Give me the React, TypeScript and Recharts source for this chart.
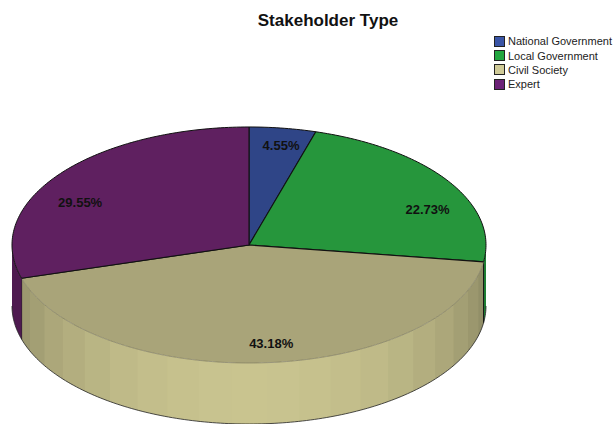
import { PieChart, Pie, Legend } from 'recharts';

// ── data ─────────────────────────────────────────────────────────────────────

const CATEGORIES = ['National Government', 'Local Government', 'Civil Society', 'Expert'];
const PERCENTS = [4.55, 22.73, 43.18, 29.55];
const LEGEND_COLORS = ['#3A55A6', '#22A63F', '#D0CB98', '#6C2277'];
const TOP_COLORS = ['#2F4587', '#26963C', '#A9A479', '#5F2060'];
const WALL_COLORS = ['#26386E', '#1E8034', '#C9C48F', '#4E1A50'];

const rows = CATEGORIES.map((name, i) => ({
  name,
  value: PERCENTS[i],
  fill: LEGEND_COLORS[i],
  top: TOP_COLORS[i],
  wall: WALL_COLORS[i],
}));

// ── 3d pie geometry ──────────────────────────────────────────────────────────

const TILT = 0.498; // ellipse ry / rx
const DEPTH = 61;
const FACET = 7.9; // deg per shaded band on the wall

const RAD = Math.PI / 180;

// a = recharts angle (deg, counter-clockwise from 3 o'clock)
function pt(cx: number, cy: number, r: number, a: number) {
  return [cx + r * Math.cos(a * RAD), cy - r * TILT * Math.sin(a * RAD)];
}

function arcPts(cx: number, cy: number, r: number, from: number, to: number, dy = 0) {
  const n = Math.max(2, Math.ceil(Math.abs(to - from)));
  const out: string[] = [];
  for (let i = 0; i <= n; i++) {
    const [x, y] = pt(cx, cy, r, from + ((to - from) * i) / n);
    out.push(`${x.toFixed(2)} ${(y + dy).toFixed(2)}`);
  }
  return out;
}

function shadeHex(hex: string, k: number) {
  const n = parseInt(hex.slice(1), 16);
  const c = [(n >> 16) & 255, (n >> 8) & 255, n & 255].map(v => Math.round(v * k));
  return `rgb(${c[0]},${c[1]},${c[2]})`;
}

function Slice3D(props: any) {
  const { cx, cy, outerRadius: r, startAngle, endAngle, payload } = props;
  const top = payload.top ?? props.top;
  const wall = payload.wall ?? props.wall;
  const name = payload.name ?? props.name;
  const isCivil = name === 'Civil Society';

  // front half of the rim only: angles between -180 and 0
  const frontHi = Math.min(startAngle, 0);
  const frontLo = Math.max(endAngle, -180);

  const facets: number[][] = [];
  if (frontHi > frontLo) {
    if (isCivil) {
      // painted from both ends towards the middle so each band overlaps the last
      const bands: number[][] = [];
      for (let a = -90 - FACET / 2; a < frontHi; a += FACET) bands.push([a, Math.min(a + FACET, frontHi)]);
      for (let a = -90 - FACET / 2; a > frontLo; a -= FACET) bands.push([Math.max(a - FACET, frontLo), a]);
      bands.sort((p, q) => Math.abs(q[0] + q[1] + 180) - Math.abs(p[0] + p[1] + 180));
      facets.push(...bands);
    } else {
      facets.push([frontLo, frontHi]);
    }
  }

  const wallEls = facets.map(([s, e], i) => {
    const mid = (s + e) / 2;
    const k = isCivil ? 0.66 + 0.34 * Math.abs(Math.sin(mid * RAD)) : 1;
    // small overlap hides hairline seams between bands
    const s2 = isCivil ? Math.max(s - 0.4, frontLo) : s;
    const e2 = isCivil ? Math.min(e + 0.4, frontHi) : e;
    const d = `M${arcPts(cx, cy, r, s2, e2).join(' L')} L${arcPts(cx, cy, r, e2, s2, DEPTH).join(' L')} Z`;
    return <path key={i} d={d} fill={shadeHex(wall, k)} />;
  });

  const rim = frontHi > frontLo ? `M${arcPts(cx, cy, r, frontLo, frontHi, DEPTH).join(' L')}` : null;
  const [ax, ay] = pt(cx, cy, r, startAngle);
  const [bx, by] = pt(cx, cy, r, endAngle);
  const arc = arcPts(cx, cy, r, startAngle, endAngle);

  return (
    <g>
      {wallEls}
      {rim && <path d={rim} fill="none" stroke="#222" strokeWidth={0.8} />}
      {isCivil && (
        <>
          <line x1={ax} y1={ay} x2={ax} y2={ay + DEPTH} stroke="#111" strokeWidth={1} />
          <line x1={bx} y1={by} x2={bx} y2={by + DEPTH} stroke="#111" strokeWidth={1} />
        </>
      )}
      <path d={`M${cx} ${cy} L${arc.join(' L')} Z`} fill={top} />
      <path d={`M${arc.join(' L')}`} fill="none" stroke={isCivil ? '#77735a' : '#111'} strokeWidth={isCivil ? 0.6 : 1} />
      <path d={`M${ax} ${ay} L${cx} ${cy} L${bx} ${by}`} fill="none" stroke="#111" strokeWidth={1.1} />
    </g>
  );
}

// SPSS does not put the labels on a clean radius, hence per-slice placement
const LABEL_RADIUS = [0.89, 0.89, 0.84, 0.89];
const LABEL_NUDGE = [[2, 4], [1, 21], [8, 0], [0, 20]];

function renderLabel(props: any) {
  const { cx, cy, midAngle, outerRadius, index, value } = props;
  const [x, y] = pt(cx, cy, outerRadius * LABEL_RADIUS[index], midAngle);
  const [nx, ny] = LABEL_NUDGE[index];
  return (
    <text
      x={x + nx}
      y={y + ny}
      textAnchor="middle"
      dominantBaseline="central"
      fontFamily="'Liberation Sans', Arial, sans-serif"
      fontSize={13}
      fontWeight={700}
      fill="#111"
    >
      {`${value.toFixed(2)}%`}
    </text>
  );
}

function SwatchLegend({ payload }: any) {
  return (
    <div style={{ fontFamily: "'Liberation Sans', Arial, sans-serif", fontSize: 11, color: '#222' }}>
      {(payload ?? []).map((p: any) => (
        <div key={p.value} style={{ display: 'flex', alignItems: 'center', height: 14.4 }}>
          <span
            style={{
              width: 9,
              height: 9,
              background: p.color,
              border: '1px solid #222',
              marginRight: 3,
              flexShrink: 0,
            }}
          />
          <span style={{ whiteSpace: 'nowrap' }}>{p.value}</span>
        </div>
      ))}
    </div>
  );
}

export default function App() {
  return (
    <div style={{ position: 'absolute', left: 0, top: 0, width: 613, height: 424, background: '#fff', overflow: 'hidden' }}>
      <PieChart width={613} height={424} margin={{ top: 0, right: 0, bottom: 0, left: 0 }}>
        <text
          x={328}
          y={20}
          textAnchor="middle"
          dominantBaseline="central"
          fontFamily="'Liberation Sans', Arial, sans-serif"
          fontSize={17}
          fontWeight={700}
          fill="#111"
        >
          Stakeholder Type
        </text>
        <Pie
          data={rows}
          dataKey="value"
          nameKey="name"
          cx={249}
          cy={245}
          innerRadius={0}
          outerRadius={237}
          startAngle={90}
          endAngle={-270}
          stroke="none"
          shape={Slice3D}
          label={renderLabel}
          labelLine={false}
          isAnimationActive={false}
        />
        <Legend
          layout="vertical"
          align="right"
          verticalAlign="top"
          itemSorter={null}
          content={<SwatchLegend />}
          wrapperStyle={{ position: 'absolute', left: 494, top: 34, width: 119, height: 60 }}
        />
      </PieChart>
    </div>
  );
}
